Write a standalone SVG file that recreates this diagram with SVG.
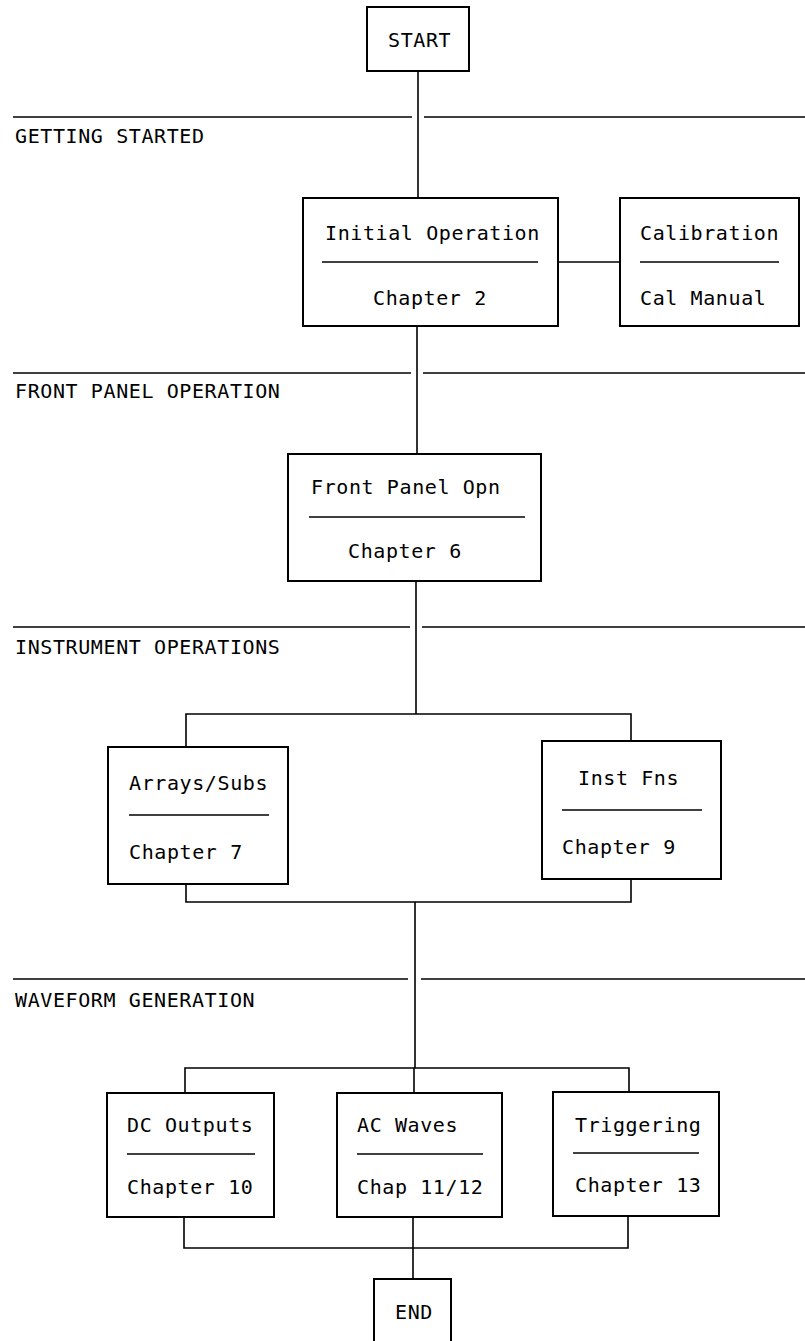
<svg xmlns="http://www.w3.org/2000/svg" width="805" height="1341" viewBox="0 0 805 1341">
<style>
.box{fill:#fff;stroke:#000;stroke-width:2}
.ln{fill:none;stroke:#000;stroke-width:1.6}
.dv{stroke:#000;stroke-width:1.6}
text{font-family:"DejaVu Sans Mono","Liberation Mono",monospace;font-size:20px;letter-spacing:0.6px;fill:#000}
</style>
<rect width="805" height="1341" fill="#fff"/>
<g id="sections">
<line class="ln" x1="13" y1="117" x2="412" y2="117"/><line class="ln" x1="424" y1="117" x2="805" y2="117"/>
<text x="15" y="143">GETTING STARTED</text>
<line class="ln" x1="13" y1="373" x2="411" y2="373"/><line class="ln" x1="423" y1="373" x2="805" y2="373"/>
<text x="15" y="398">FRONT PANEL OPERATION</text>
<line class="ln" x1="13" y1="627" x2="410" y2="627"/><line class="ln" x1="422" y1="627" x2="805" y2="627"/>
<text x="15" y="654">INSTRUMENT OPERATIONS</text>
<line class="ln" x1="13" y1="979" x2="408" y2="979"/><line class="ln" x1="421" y1="979" x2="805" y2="979"/>
<text x="15" y="1007">WAVEFORM GENERATION</text>
</g>
<g id="connectors">
<path class="ln" d="M418 71V198"/>
<path class="ln" d="M558 262H620"/>
<path class="ln" d="M417 326V454"/>
<path class="ln" d="M416 581V714M186 747V714H631V741"/>
<path class="ln" d="M186 884V902H631V879M415 902V1068"/>
<path class="ln" d="M185 1093V1068H629V1093M414 1068V1093"/>
<path class="ln" d="M184 1217V1248H628V1216M413 1217V1279"/>
</g>
<g id="start"><rect class="box" x="367" y="7" width="102" height="64"/><text x="388" y="47">START</text></g>
<g id="initial-operation"><rect class="box" x="303" y="198" width="255" height="128"/><text x="325" y="240">Initial Operation</text><line class="dv" x1="322" y1="262" x2="538" y2="262"/><text x="373" y="305">Chapter 2</text></g>
<g id="calibration"><rect class="box" x="620" y="198" width="179" height="128"/><text x="640" y="240">Calibration</text><line class="dv" x1="640" y1="262" x2="779" y2="262"/><text x="640" y="305">Cal Manual</text></g>
<g id="front-panel"><rect class="box" x="288" y="454" width="253" height="127"/><text x="311" y="494">Front Panel Opn</text><line class="dv" x1="309" y1="517" x2="525" y2="517"/><text x="348" y="558">Chapter 6</text></g>
<g id="arrays-subs"><rect class="box" x="108" y="747" width="180" height="137"/><text x="129" y="790">Arrays/Subs</text><line class="dv" x1="129" y1="815" x2="269" y2="815"/><text x="129" y="859">Chapter 7</text></g>
<g id="inst-fns"><rect class="box" x="542" y="741" width="179" height="138"/><text x="578" y="785">Inst Fns</text><line class="dv" x1="562" y1="810" x2="702" y2="810"/><text x="562" y="854">Chapter 9</text></g>
<g id="dc-outputs"><rect class="box" x="107" y="1093" width="167" height="124"/><text x="127" y="1132">DC Outputs</text><line class="dv" x1="127" y1="1154" x2="255" y2="1154"/><text x="127" y="1194">Chapter 10</text></g>
<g id="ac-waves"><rect class="box" x="337" y="1093" width="165" height="124"/><text x="357" y="1132">AC Waves</text><line class="dv" x1="357" y1="1154" x2="483" y2="1154"/><text x="357" y="1194">Chap 11/12</text></g>
<g id="triggering"><rect class="box" x="553" y="1092" width="166" height="124"/><text x="575" y="1132">Triggering</text><line class="dv" x1="573" y1="1153" x2="699" y2="1153"/><text x="575" y="1192">Chapter 13</text></g>
<g id="end"><rect class="box" x="374" y="1279" width="77" height="70"/><text x="395" y="1319">END</text></g>
</svg>
